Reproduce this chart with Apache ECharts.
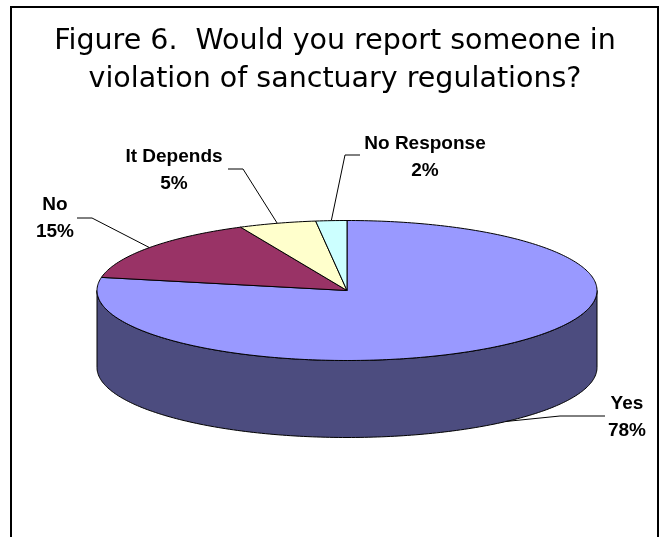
<!DOCTYPE html>
<html>
<head>
<meta charset="utf-8">
<script src="https://cdn.jsdelivr.net/npm/echarts@6/dist/echarts.min.js"></script>
<style>
  html, body { margin: 0; padding: 0; background: #ffffff; }
  #chart { width: 662px; height: 537px; }
</style>
</head>
<body>
<div id="chart"></div>
<script>
// ---- data ----
const categories = ['Yes', 'No', 'It Depends', 'No Response'];
const values = [78, 15, 5, 2];
const titleLines = ['Figure 6.  Would you report someone in', 'violation of sanctuary regulations?'];

// ---- styles / layout ----
const topColors = ['#9999FF', '#993366', '#FFFFCC', '#CCFFFF'];
const sideColors = ['#4C4C7F', '#4D1A33', '#80806A', '#6A8080'];
const CX = 347, CY = 290.5, RX = 250, RY = 70, DEPTH = 77;
// label centre + leader elbow points (layout only)
const labelPos = [[627, 417], [55, 218], [174, 170], [425, 157]];
const leaderElbows = [
  [[605, 416], [560, 416]],
  [[77, 218], [92, 218]],
  [[228, 169], [243, 169]],
  [[360, 155], [345, 155]]
];

const total = values.reduce((a, b) => a + b, 0);
const cum = [];
values.reduce((acc, v, i) => { cum[i] = acc; return acc + v; }, 0);

function pt(deg, dy) {
  const r = deg * Math.PI / 180;
  return [CX + RX * Math.sin(r), CY - RY * Math.cos(r) + (dy || 0)];
}
function arcPts(a0, a1, dy) {
  const pts = [];
  const n = Math.max(2, Math.ceil(Math.abs(a1 - a0)));
  for (let k = 0; k <= n; k++) pts.push(pt(a0 + (a1 - a0) * k / n, dy));
  return pts;
}

const chart = echarts.init(document.getElementById('chart'), null, { renderer: 'canvas' });

chart.setOption({
  backgroundColor: '#ffffff',
  animation: false,
  graphic: [
    {
      type: 'rect', silent: true,
      shape: { x: 11, y: 7, width: 647, height: 620 },
      style: { fill: 'none', stroke: '#000', lineWidth: 2 }
    },
    {
      type: 'text', x: 335, y: 42,
      style: { text: titleLines[0], fill: '#000', fontFamily: 'DejaVu Sans', fontSize: 28.5, align: 'center', verticalAlign: 'middle' }
    },
    {
      type: 'text', x: 335, y: 80,
      style: { text: titleLines[1], fill: '#000', fontFamily: 'DejaVu Sans', fontSize: 28.5, align: 'center', verticalAlign: 'middle' }
    }
  ],
  series: [{
    type: 'custom',
    coordinateSystem: 'none',
    data: values.map((v, i) => ({ name: categories[i], value: v })),
    renderItem: function (params, api) {
      const i = params.dataIndex;
      const v = api.value(0);
      const start = cum[i] / total * 360;
      const end = (cum[i] + v) / total * 360;
      const children = [];
      // front side wall
      const s0 = Math.max(start, 90), s1 = Math.min(end, 270);
      if (s1 > s0) {
        const pts = arcPts(s0, s1, 0).concat(arcPts(s1, s0, DEPTH));
        children.push({
          type: 'polygon', z2: 1, shape: { points: pts },
          style: { fill: sideColors[i], stroke: '#000', lineWidth: 1 }
        });
      }
      // top face
      const top = [[CX, CY]].concat(arcPts(start, end, 0));
      children.push({
        type: 'polygon', z2: 10, shape: { points: top },
        style: { fill: topColors[i], stroke: '#000', lineWidth: 1, lineJoin: 'round' }
      });
      // leader line
      const mid = (start + end) / 2;
      const front = mid > 90 && mid < 270;
      const anchor = pt(mid, front ? DEPTH : 0);
      children.push({
        type: 'polyline', z2: 20,
        shape: { points: leaderElbows[i].concat([anchor]) },
        style: { fill: null, stroke: '#000', lineWidth: 1 }
      });
      // label
      const pct = Math.round(v / total * 100);
      children.push({
        type: 'text', z2: 30, x: labelPos[i][0], y: labelPos[i][1],
        style: {
          text: categories[i] + '\n' + pct + '%',
          fill: '#000', fontFamily: 'Liberation Sans', fontWeight: 'bold', fontSize: 19,
          lineHeight: 27, align: 'center', verticalAlign: 'middle'
        }
      });
      return { type: 'group', children: children };
    }
  }]
});
</script>
</body>
</html>
